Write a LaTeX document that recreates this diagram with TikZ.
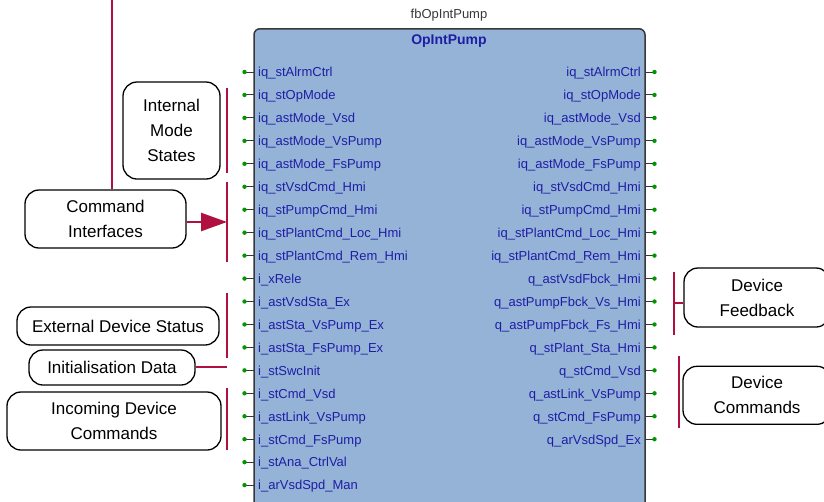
\documentclass[tikz,border=0pt]{standalone}
\usepackage{fontspec}
\setmainfont{Liberation Sans}
\usetikzlibrary{arrows.meta, positioning, calc}

\definecolor{fbfill}{RGB}{149,179,215}
\definecolor{fbedge}{RGB}{56,56,56}
\definecolor{pinblue}{RGB}{30,30,165}
\definecolor{crimson}{RGB}{176,16,64}
\definecolor{pingreen}{RGB}{0,150,0}

\begin{document}
\begin{tikzpicture}[
    x=1pt, y=-1pt,
    fblock/.style = {rectangle, draw=fbedge, fill=fbfill, line width=1.5pt, rounded corners=6pt, anchor=north, minimum width=391pt, minimum height=520pt},
    pinlab/.style = {font=\fontsize{13}{15}\selectfont, text=pinblue, inner sep=0pt},
    pinline/.style = {draw=fbedge, line width=1pt},
    note/.style = {rectangle, draw, line width=1.3pt, rounded corners=14pt, align=center, font=\fontsize{17}{25}\selectfont, inner sep=2pt},
    bracket/.style = {draw=crimson, line width=2pt},
    feed/.style = {draw=crimson, line width=2.5pt, -{Triangle[length=26pt, width=18pt]}}
]
    \useasboundingbox (0,0) rectangle (824,501);
    \clip (0,0) rectangle (824,501);

    % Function block
    \node (pump) [fblock] at (449.5,28) {};
    \node (inst) [font=\fontsize{13}{15}\selectfont, text=fbedge] at (449,15) {fbOpIntPump};
    \node (title) [font=\bfseries\fontsize{14}{16}\selectfont, text=pinblue] at (449,41) {OpIntPump};

    % Inputs
    \foreach \lab [count=\i] in {iq\_stAlrmCtrl, iq\_stOpMode, iq\_astMode\_Vsd, iq\_astMode\_VsPump, iq\_astMode\_FsPump, iq\_stVsdCmd\_Hmi, iq\_stPumpCmd\_Hmi, iq\_stPlantCmd\_Loc\_Hmi, iq\_stPlantCmd\_Rem\_Hmi, i\_xRele, i\_astVsdSta\_Ex, i\_astSta\_VsPump\_Ex, i\_astSta\_FsPump\_Ex, i\_stSwcInit, i\_stCmd\_Vsd, i\_astLink\_VsPump, i\_stCmd\_FsPump, i\_stAna\_CtrlVal, i\_arVsdSpd\_Man} {
        \coordinate (L\i) at (254,{72+(\i-1)*22.95});
        \draw [pinline] (L\i) -- ++(-11,0);
        \fill [pingreen] ($(L\i)+(-9.5,0)$) circle (2.2pt);
        \node (inL\i) [pinlab, anchor=base west] at ($(L\i)+(4,4.8)$) {\lab};
    }

    % Outputs
    \foreach \lab [count=\i] in {iq\_stAlrmCtrl, iq\_stOpMode, iq\_astMode\_Vsd, iq\_astMode\_VsPump, iq\_astMode\_FsPump, iq\_stVsdCmd\_Hmi, iq\_stPumpCmd\_Hmi, iq\_stPlantCmd\_Loc\_Hmi, iq\_stPlantCmd\_Rem\_Hmi, q\_astVsdFbck\_Hmi, q\_astPumpFbck\_Vs\_Hmi, q\_astPumpFbck\_Fs\_Hmi, q\_stPlant\_Sta\_Hmi, q\_stCmd\_Vsd, q\_astLink\_VsPump, q\_stCmd\_FsPump, q\_arVsdSpd\_Ex} {
        \coordinate (R\i) at (645,{72+(\i-1)*22.95});
        \draw [pinline] (R\i) -- ++(11,0);
        \fill [pingreen] ($(R\i)+(9.5,0)$) circle (2.2pt);
        \node (outR\i) [pinlab, anchor=base east] at ($(R\i)+(-4,4.8)$) {\lab};
    }

    % Notes - left
    \node (modes) [note, minimum width=97pt, minimum height=97pt] at (171.5,130.5) {Internal\\Mode\\States};
    \node (cmd) [note, minimum width=161pt, minimum height=58pt] at (105.5,219) {Command\\Interfaces};
    \node (ext) [note, minimum width=202pt, minimum height=38pt] at (118,326) {External Device Status};
    \node (init) [note, minimum width=166pt, minimum height=35pt] at (112,367.5) {Initialisation Data};
    \node (inc) [note, minimum width=214pt, minimum height=58pt] at (114,421) {Incoming Device\\Commands};

    % Notes - right
    \node (fb) [note, minimum width=146pt, minimum height=59pt] at (757,297.5) {Device\\Feedback};
    \node (dc) [note, minimum width=148pt, minimum height=58pt, below=38pt of fb.south, anchor=north] {Device\\Commands};

    % Bracket ends
    \coordinate (modeA) at (227,88);  \coordinate (modeB) at (227,173);
    \coordinate (cmdA) at (227,182);  \coordinate (cmdB) at (227,262);
    \coordinate (cmdM) at (227,222);
    \coordinate (extA) at (227,293);  \coordinate (extB) at (227,358);
    \coordinate (initM) at (227,367);
    \coordinate (incA) at (227,388);  \coordinate (incB) at (227,450);
    \coordinate (fbA) at (674,272);   \coordinate (fbB) at (674,335);
    \coordinate (fbM) at (674,303);
    \coordinate (dcA) at (679,356);   \coordinate (dcB) at (679,428);
    \coordinate (feedTop) at (112,-2);

    % Brackets
    \draw [bracket] (modeA) -- (modeB);
    \draw [bracket] (cmdA) -- (cmdB);
    \draw [bracket] (extA) -- (extB);
    \draw [bracket] (incA) -- (incB);
    \draw [bracket] (fbA) -- (fbB);
    \draw [bracket] (dcA) -- (dcB);

    % Links
    \draw [bracket] (feedTop) -- (cmd.north -| feedTop);
    \draw [feed] (cmd.east |- cmdM) -- (cmdM);
    \draw [bracket] (init.east |- initM) -- (initM);
    \draw [bracket] (fbM) -- (fbM -| fb.west);

\end{tikzpicture}
\end{document}
